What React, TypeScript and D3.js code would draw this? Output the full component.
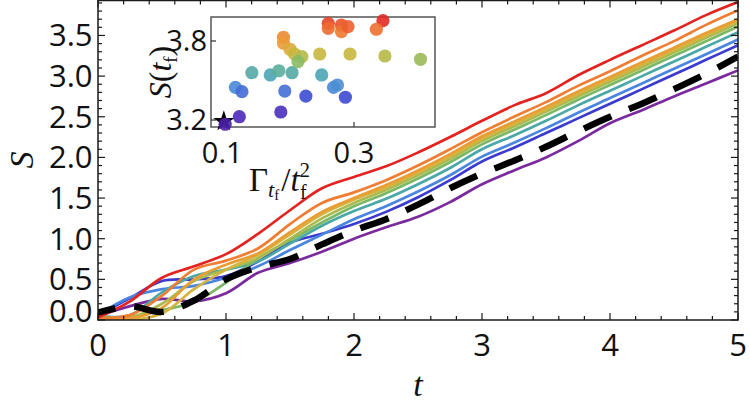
import React from "react";
import * as d3 from "d3";

// Time grid shared by every curve
const tGrid = [0, 0.25, 0.5, 0.75, 1, 1.25, 1.5, 1.75, 2, 2.25, 2.5, 2.75, 3, 3.25, 3.5, 3.75, 4, 4.25, 4.5, 4.75, 5];

// S(t) for each protocol
const sPurple = [0.05, 0.17, 0.26, 0.23, 0.33, 0.58, 0.7, 0.84, 1.0, 1.14, 1.27, 1.45, 1.67, 1.84, 2.0, 2.2, 2.42, 2.58, 2.75, 2.91, 3.07];
const sDarkBlue = [0.06, 0.27, 0.48, 0.5, 0.54, 0.72, 0.95, 1.06, 1.18, 1.33, 1.51, 1.72, 1.95, 2.12, 2.3, 2.48, 2.66, 2.84, 3.02, 3.2, 3.38];
const sBlue = [0.06, 0.28, 0.38, 0.42, 0.52, 0.66, 0.86, 1.05, 1.24, 1.4, 1.58, 1.78, 2.01, 2.18, 2.36, 2.55, 2.73, 2.91, 3.09, 3.27, 3.45];
const sTeal = [0.05, 0.06, 0.34, 0.54, 0.62, 0.72, 0.94, 1.16, 1.34, 1.49, 1.67, 1.87, 2.1, 2.27, 2.45, 2.64, 2.82, 3.0, 3.18, 3.36, 3.54];
const sGreen = [0.04, 0.04, 0.12, 0.22, 0.46, 0.76, 0.98, 1.2, 1.4, 1.56, 1.74, 1.94, 2.16, 2.34, 2.52, 2.71, 2.89, 3.07, 3.25, 3.43, 3.61];
const sYellowGreen = [0.03, 0.03, 0.2, 0.48, 0.62, 0.76, 1.0, 1.25, 1.44, 1.6, 1.78, 1.98, 2.2, 2.38, 2.56, 2.75, 2.93, 3.11, 3.29, 3.47, 3.65];
const sYellow = [0.02, 0.0, 0.08, 0.38, 0.62, 0.8, 1.05, 1.3, 1.48, 1.63, 1.81, 2.01, 2.23, 2.41, 2.59, 2.78, 2.96, 3.14, 3.32, 3.5, 3.68];
const sAmber = [0.03, 0.02, 0.15, 0.5, 0.68, 0.82, 1.08, 1.33, 1.5, 1.66, 1.84, 2.04, 2.26, 2.44, 2.62, 2.81, 2.99, 3.17, 3.35, 3.53, 3.7];
const sOrange = [0.03, 0.06, 0.3, 0.62, 0.73, 0.88, 1.18, 1.44, 1.57, 1.72, 1.9, 2.1, 2.31, 2.5, 2.68, 2.88, 3.06, 3.25, 3.43, 3.63, 3.81];
const sRed = [0.03, 0.23, 0.52, 0.66, 0.81, 1.06, 1.35, 1.62, 1.76, 1.89, 2.06, 2.25, 2.45, 2.64, 2.79, 3.01, 3.2, 3.38, 3.56, 3.75, 3.91];
const sReference = [0.09, 0.17, 0.1, 0.24, 0.5, 0.65, 0.75, 0.93, 1.1, 1.24, 1.42, 1.62, 1.8, 1.96, 2.13, 2.32, 2.5, 2.66, 2.84, 3.03, 3.24];

const curveSeries = [sPurple, sDarkBlue, sBlue, sTeal, sGreen, sYellowGreen, sYellow, sAmber, sOrange, sRed];
const curveColors = ["#7b2a9e", "#3b3bcf", "#4a86df", "#4aa8a6", "#7bb866", "#a9bb4e", "#d6b23e", "#e99d34", "#ef7d33", "#e3231f"];

// Inset: final S against the normalised width
const insetGamma = [0.1045, 0.126, 0.189, 0.12, 0.13, 0.145, 0.173, 0.186, 0.206, 0.195, 0.227, 0.193, 0.193, 0.203, 0.21, 0.221, 0.215, 0.248, 0.251, 0.261, 0.261, 0.281, 0.281, 0.291, 0.344, 0.334, 0.294, 0.347, 0.401, 0.269, 0.275, 0.287];
const insetS = [3.168, 3.225, 3.261, 3.448, 3.415, 3.559, 3.542, 3.574, 3.559, 3.42, 3.382, 3.828, 3.783, 3.737, 3.701, 3.681, 3.643, 3.701, 3.542, 3.934, 3.896, 3.921, 3.871, 3.909, 3.954, 3.889, 3.701, 3.686, 3.661, 3.448, 3.466, 3.373];
const starGamma = 0.1025;
const starS = 3.19;

const xTickValues = [0, 1, 2, 3, 4, 5];
const yTickValues = [0, 0.5, 1, 1.5, 2, 2.5, 3, 3.5];
const insetXTicks = [0.1, 0.3];
const insetYTicks = [3.2, 3.8];

const tickFont = "'Open Sans', 'Noto Sans', sans-serif";
const mathFont = "'Liberation Serif', 'DejaVu Serif', serif";

export default function App() {
  const W = 750;
  const H = 415;

  const x = d3.scaleLinear().domain([0, 5]).range([98, 738]);
  const y = d3.scaleLinear().domain([0, 3.93]).range([320, 0.5]);
  const left = x(0);
  const right = x(5);
  const bottom = y(0);
  const top = y(3.93);

  const line = d3
    .line<number>()
    .x((_, i) => x(tGrid[i]))
    .y((d) => y(d))
    .curve(d3.curveCatmullRom.alpha(0.5));

  const xMinor = d3.range(0, 5.0001, 0.2);
  const yMinor = d3.range(0, 3.9001, 0.1);

  // inset axes
  const xi = d3.scaleLinear().domain([0.083, 0.423]).range([211, 435]);
  const yi = d3.scaleLinear().domain([3.147, 3.982]).range([127, 17]);
  const colour = d3
    .scaleLinear<string>()
    .domain([3.15, 3.26, 3.38, 3.45, 3.54, 3.58, 3.65, 3.7, 3.76, 3.85, 3.9, 3.96])
    .range(["#4a1da6", "#4b2fbf", "#3c4bd2", "#4a8ad8", "#4aa3b6", "#5db095", "#8fbb5e", "#c6b73d", "#e9a43a", "#ee8232", "#ee6a2e", "#e02323"])
    .clamp(true);
  const star = d3.symbol().type(d3.symbolStar).size(140)();

  const frame = "#1a1a1a";

  return (
    <svg width={W} height={H} style={{ position: "absolute", left: 0, top: 0, background: "#fff" }}>
      <defs>
        <clipPath id="plotArea">
          <rect x={left} y={top} width={right - left} height={bottom - top} />
        </clipPath>
      </defs>

      {/* curves */}
      <g clipPath="url(#plotArea)" fill="none" strokeLinejoin="round">
        {curveSeries.map((s, i) => (
          <path key={i} d={line(s) || ""} stroke={curveColors[i]} strokeWidth={2.7} />
        ))}
        <path d={line(sReference) || ""} stroke="#000" strokeWidth={6.5} strokeDasharray="30 19" strokeDashoffset={12} />
      </g>

      {/* frame and ticks */}
      <rect x={left} y={top} width={right - left} height={bottom - top} fill="none" stroke={frame} strokeWidth={1.5} />
      <g stroke={frame} strokeWidth={1.2}>
        {xMinor.map((v, i) => {
          const major = Math.abs(v - Math.round(v)) < 1e-6;
          const len = major ? 7 : 4;
          return (
            <g key={"x" + i}>
              <line x1={x(v)} x2={x(v)} y1={bottom} y2={bottom - len} />
              <line x1={x(v)} x2={x(v)} y1={top} y2={top + len} />
            </g>
          );
        })}
        {yMinor.map((v, i) => {
          const major = Math.abs(v * 2 - Math.round(v * 2)) < 1e-6;
          const len = major ? 7 : 4;
          return (
            <g key={"y" + i}>
              <line x1={left} x2={left + len} y1={y(v)} y2={y(v)} />
              <line x1={right} x2={right - len} y1={y(v)} y2={y(v)} />
            </g>
          );
        })}
      </g>

      {/* tick labels */}
      <g fontFamily={tickFont} fontSize={31} fill="#111">
        {xTickValues.map((v) => (
          <text key={v} x={x(v)} y={356} textAnchor="middle">
            {d3.format("d")(v)}
          </text>
        ))}
        {yTickValues.map((v) => (
          <text key={v} x={left - 5.5} y={Math.min(y(v), bottom - 9) + 11} textAnchor="end">
            {d3.format(".1f")(v)}
          </text>
        ))}
      </g>

      {/* axis titles */}
      <text x={418} y={396} textAnchor="middle" fontFamily={mathFont} fontStyle="italic" fontSize={34} fill="#111">
        t
      </text>
      <text transform="translate(33,160) rotate(-90)" textAnchor="middle" fontFamily={mathFont} fontStyle="italic" fontSize={34} fill="#111">
        S
      </text>

      {/* inset */}
      <g>
        <rect x={xi.range()[0]} y={yi.range()[1]} width={xi.range()[1] - xi.range()[0]} height={yi.range()[0] - yi.range()[1]} fill="#fff" stroke="#555" strokeWidth={1.5} />
        <g stroke="#333" strokeWidth={1.2}>
          {insetXTicks.map((v) => (
            <line key={v} x1={xi(v)} x2={xi(v)} y1={yi.range()[0]} y2={yi.range()[0] - 5} />
          ))}
          {insetYTicks.map((v) => (
            <line key={v} x1={xi.range()[0]} x2={xi.range()[0] + 5} y1={yi(v)} y2={yi(v)} />
          ))}
        </g>
        <path d={star || ""} transform={`translate(${xi(starGamma)},${yi(starS)})`} fill="#000" />
        {insetGamma.map((g, i) => (
          <circle key={i} cx={xi(g)} cy={yi(insetS[i])} r={6.6} fill={colour(insetS[i])} fillOpacity={0.9} />
        ))}
        <g fontFamily={tickFont} fontSize={29} fill="#111">
          {insetXTicks.map((v) => (
            <text key={v} x={xi(v)} y={163} textAnchor="middle">
              {d3.format(".1f")(v)}
            </text>
          ))}
          {insetYTicks.map((v) => (
            <text key={v} x={xi.range()[0] - 4} y={yi(v) + 10} textAnchor="end">
              {d3.format(".1f")(v)}
            </text>
          ))}
        </g>
        {/* inset axis titles */}
        <text transform="translate(171,72) rotate(-90)" textAnchor="middle" fontFamily={mathFont} fontSize={32} fill="#111">
          <tspan fontStyle="italic">S</tspan>
          <tspan>(</tspan>
          <tspan fontStyle="italic">t</tspan>
          <tspan fontSize={19} dy={6}>f</tspan>
          <tspan dy={-6}>)</tspan>
        </text>
        <text x={249} y={191} fontFamily={mathFont} fontSize={33} fill="#111">
          <tspan>Γ</tspan>
          <tspan fontStyle="italic" fontSize={22} dy={6}>t</tspan>
          <tspan fontSize={15} dy={3}>f</tspan>
          <tspan fontSize={33} dy={-9} dx={2}>/</tspan>
          <tspan fontStyle="italic">t</tspan>
          <tspan fontSize={21} dy={-14}>2</tspan>
          <tspan fontSize={20} dx={-10} dy={22}>f</tspan>
        </text>
      </g>
    </svg>
  );
}
